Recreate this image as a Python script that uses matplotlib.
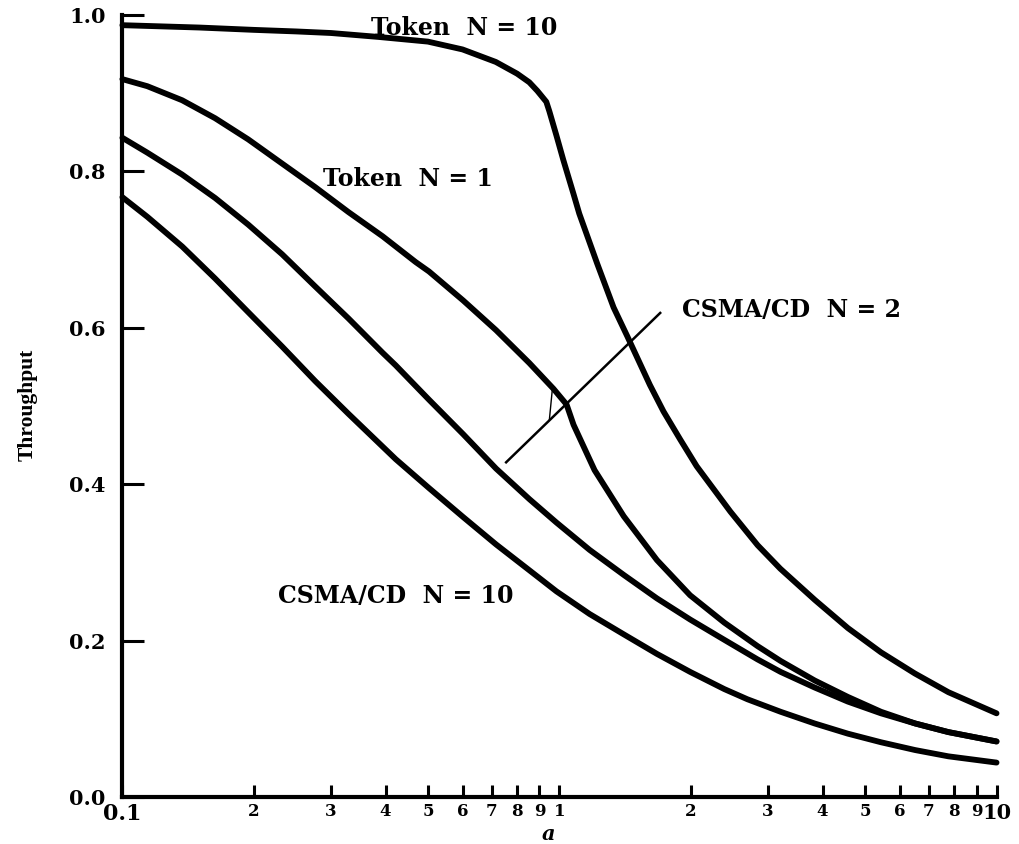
import matplotlib
matplotlib.use("Agg")
import matplotlib.pyplot as plt

# values (a on a log axis, throughput)
a_token10 = [0.1, 0.15, 0.2, 0.25, 0.3, 0.385, 0.5, 0.6, 0.715, 0.8,
             0.853, 0.89, 0.933, 0.948, 0.984, 1.02, 1.077, 1.11, 1.22, 1.33,
             1.43, 1.61, 1.73, 1.89, 2.06, 2.46, 2.84, 3.2, 3.84, 4.57,
             5.44, 6.5, 7.76, 10]
token10 = [0.987, 0.984, 0.981, 0.979, 0.977, 0.972, 0.966, 0.956, 0.940, 0.925,
           0.914, 0.903, 0.889, 0.877, 0.846, 0.815, 0.771, 0.746, 0.682, 0.626,
           0.589, 0.527, 0.493, 0.457, 0.423, 0.365, 0.322, 0.292, 0.252, 0.216,
           0.185, 0.158, 0.134, 0.107]

a_token1 = [0.1, 0.114, 0.137, 0.163, 0.194, 0.232, 0.276, 0.329, 0.394, 0.469,
            0.503, 0.602, 0.716, 0.853, 0.969, 1.038, 1.077, 1.203, 1.403, 1.671,
            1.99, 2.383, 2.838, 3.205, 3.836, 4.568, 5.44, 6.515, 7.758, 10]
token1 = [0.918, 0.909, 0.891, 0.868, 0.841, 0.810, 0.780, 0.748, 0.717, 0.684,
          0.672, 0.635, 0.597, 0.555, 0.522, 0.502, 0.476, 0.418, 0.359, 0.303,
          0.258, 0.223, 0.193, 0.174, 0.149, 0.128, 0.109, 0.094, 0.083, 0.071]

a_csma2 = [0.1, 0.114, 0.137, 0.163, 0.194, 0.232, 0.276, 0.329, 0.394, 0.422,
           0.503, 0.602, 0.716, 0.853, 0.984, 1.172, 1.403, 1.671, 1.99, 2.383,
           2.838, 3.205, 3.836, 4.568, 5.44, 6.515, 7.758, 10]
csma2 = [0.843, 0.824, 0.796, 0.766, 0.732, 0.694, 0.653, 0.612, 0.568, 0.552,
         0.508, 0.464, 0.420, 0.381, 0.351, 0.316, 0.284, 0.254, 0.227, 0.201,
         0.176, 0.160, 0.140, 0.122, 0.107, 0.094, 0.083, 0.071]

a_csma10 = [0.1, 0.114, 0.137, 0.163, 0.194, 0.232, 0.276, 0.329, 0.422, 0.503,
            0.602, 0.716, 0.853, 0.984, 1.172, 1.403, 1.671, 1.99, 2.383, 2.691,
            3.205, 3.836, 4.568, 5.44, 6.515, 7.758, 10]
csma10 = [0.767, 0.742, 0.704, 0.663, 0.620, 0.576, 0.532, 0.490, 0.432, 0.395,
          0.358, 0.323, 0.290, 0.263, 0.234, 0.208, 0.183, 0.160, 0.138, 0.125,
          0.109, 0.094, 0.081, 0.070, 0.060, 0.052, 0.044]

# pointer line for the CSMA/CD N = 2 label, and the little tick on it
pointer_a = [0.755, 1.70]
pointer_y = [0.428, 0.619]
tick_a = [0.963, 0.948]
tick_y = [0.521, 0.482]

xticks = [0.1, 0.2, 0.3, 0.4, 0.5, 0.6, 0.7, 0.8, 0.9, 1,
          2, 3, 4, 5, 6, 7, 8, 9, 10]
xlabels = ["0.1", "2", "3", "4", "5", "6", "7", "8", "9", "1",
           "2", "3", "4", "5", "6", "7", "8", "9", "10"]
yticks = [0.0, 0.2, 0.4, 0.6, 0.8, 1.0]
ylabels = ["0.0", "0.2", "0.4", "0.6", "0.8", "1.0"]

plt.rcParams['font.family'] = ['DejaVu Serif']
plt.rcParams['font.weight'] = 'bold'

fig = plt.figure(figsize=(10.2, 8.44), dpi=100)
ax = fig.add_axes([0.12, 0.0557, 0.857, 0.9265])

lw = 4.2
for xs, ys in [(a_token10, token10), (a_token1, token1),
               (a_csma2, csma2), (a_csma10, csma10)]:
    ax.plot(xs, ys, color='black', lw=lw, solid_capstyle='round',
            solid_joinstyle='round', clip_on=False)

ax.plot(pointer_a, pointer_y, color='black', lw=1.8)
ax.plot(tick_a, tick_y, color='black', lw=1.0)

ax.set_xscale('log')
ax.set_xlim(0.1, 10)
ax.set_ylim(0, 1)

ax.spines['top'].set_visible(False)
ax.spines['right'].set_visible(False)
ax.spines['left'].set_linewidth(3)
ax.spines['bottom'].set_linewidth(3)

ax.minorticks_off()
ax.set_xticks(xticks)
ax.set_xticklabels(xlabels)
ax.set_yticks(yticks)
ax.set_yticklabels(ylabels, fontsize=15)
ax.tick_params(axis='x', direction='in', length=9, width=2.2, pad=4)
ax.tick_params(axis='y', direction='in', length=16, width=2.2, pad=12)
for lab in ax.get_xticklabels():
    if lab.get_text() == "0.1":
        lab.set_fontsize(16)
    elif lab.get_text() == "10":
        lab.set_fontsize(15)
    else:
        lab.set_fontsize(12)

ax.text(0.370, 0.984, "Token  N = 10", fontsize=17, va='center', ha='left')
ax.text(0.287, 0.790, "Token  N = 1", fontsize=17, va='center', ha='left')
ax.text(1.908, 0.623, "CSMA/CD  N = 2", fontsize=17, va='center', ha='left')
ax.text(0.227, 0.257, "CSMA/CD  N = 10", fontsize=17, va='center', ha='left')

fig.text(28 / 1020, 1 - 405 / 844, "Throughput", rotation=90, fontsize=15.5,
         family='Liberation Serif', weight='bold', ha='center', va='center')
fig.text(548 / 1020, 1 - 834 / 844, "a", fontsize=15, style='italic',
         weight='bold', ha='center', va='center')

fig.savefig("out.png", dpi=100)
